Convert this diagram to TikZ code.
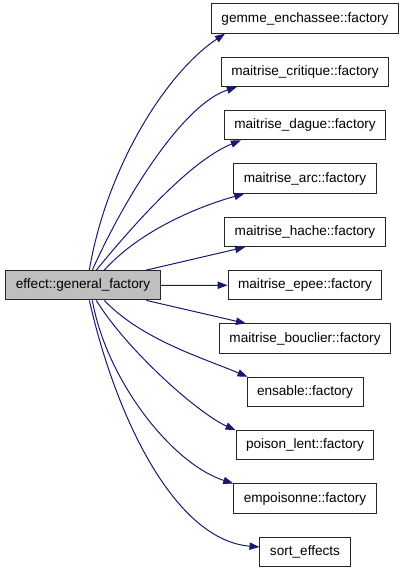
\documentclass[tikz,border=0pt]{standalone}
\usepackage{fontspec}
\setmainfont{Liberation Sans}
\usepackage{xcolor}
\definecolor{edgeblue}{HTML}{191970}
\definecolor{rootgray}{HTML}{BFBFBF}
\usepackage{tikz}
\usetikzlibrary{arrows.meta, calc}

\begin{document}
\begin{tikzpicture}[x=0.75pt, y=0.75pt, font=\fontsize{10.2}{12}\selectfont,
  fn/.style={draw=black!85, line width=0.75pt, fill=white, minimum height=22pt,
    inner xsep=7.5pt, inner ysep=0pt},
  root/.style={fn, fill=rootgray},
  call/.style={edgeblue, line width=0.75pt, -{Triangle[length=7.5pt, width=5.5pt]}}]
  \useasboundingbox (0,0) rectangle (405,-573);
  % callees, one column
  \foreach \nm/\txt [count=\i from 0] in {
      gemme/gemme\_enchassee::factory,
      critique/maitrise\_critique::factory,
      dague/maitrise\_dague::factory,
      arc/maitrise\_arc::factory,
      hache/maitrise\_hache::factory,
      epee/maitrise\_epee::factory,
      bouclier/maitrise\_bouclier::factory,
      ensable/ensable::factory,
      poison/poison\_lent::factory,
      empoisonne/empoisonne::factory,
      sort/sort\_effects}{
    \node[fn] (\nm) at (305,{-18.5-53.35*\i}) {\txt};
  }
  \node[root] (gf) at (83,-285.25) {effect::general\_factory};
  % calls above
  \draw[call] ($(gf.north west)+(84,0)$) .. controls +(17,101) and +(-60,-40) .. ($(gemme.south west)+(14,0)$);
  \draw[call] ($(gf.north west)+(87,0)$) .. controls +(34,76) and +(-53,-17) .. ($(critique.south west)+(16,0)$);
  \draw[call] ($(gf.north west)+(91,0)$) .. controls +(50,61) and +(-45,-18) .. ($(dague.south west)+(17,0)$);
  \draw[call] ($(gf.north west)+(99,0)$) .. controls +(37,41) and +(-43,-12) .. ($(arc.south west)+(11,0)$);
  \draw[call] ($(gf.north west)+(141,0)$) -- ($(hache.south west)+(21,0)$);
  \draw[call] (gf.east) -- (epee.west);
  % calls below
  \draw[call] ($(gf.south west)+(141,0)$) -- ($(bouclier.north west)+(27,0)$);
  \draw[call] ($(gf.south west)+(99,0)$) .. controls +(37,-39) and +(-45,19) .. ($(ensable.north west)+(1,0)$);
  \draw[call] ($(gf.south west)+(91,0)$) .. controls +(30,-49) and +(-38,17) .. (poison.north west);
  \draw[call] ($(gf.south west)+(87,0)$) .. controls +(14,-79) and +(-62,20) .. (empoisonne.north west);
  \draw[call] ($(gf.south west)+(84,0)$) .. controls +(27,-119) and +(-84,7) .. ($(sort.west)+(0,5)$);
\end{tikzpicture}
\end{document}
